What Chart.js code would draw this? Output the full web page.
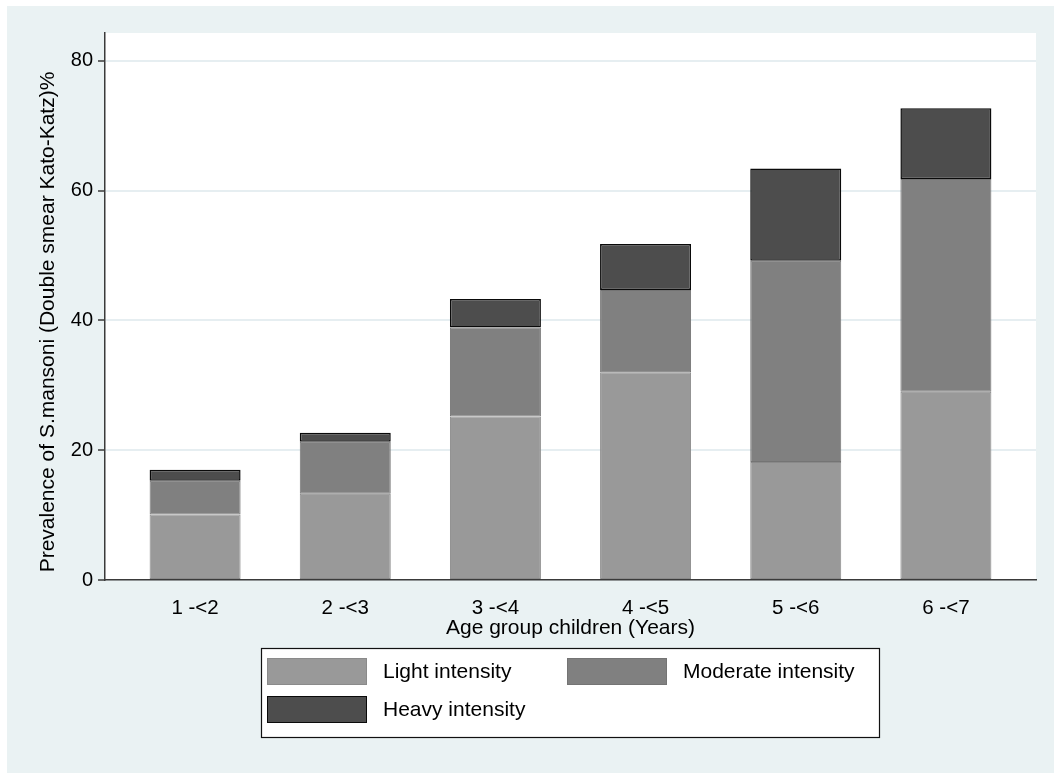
<!DOCTYPE html>
<html>
<head>
<meta charset="utf-8">
<script src="https://cdn.jsdelivr.net/npm/chart.js@4.4.1/dist/chart.umd.min.js"></script>
<style>
  html, body { margin: 0; padding: 0; background: #ffffff; }
  #wrap { position: relative; width: 1054px; height: 773px; }
</style>
</head>
<body>
<div id="wrap"><canvas id="chart" width="1054" height="773"></canvas></div>
<script>
// Age groups and prevalence (%) by infection intensity
const ageGroups = ['1 -<2', '2 -<3', '3 -<4', '4 -<5', '5 -<6', '6 -<7'];
const lightIntensity = [10.1, 13.3, 25.2, 32.0, 18.2, 29.0];
const moderateIntensity = [5.2, 8.0, 13.7, 12.7, 31.0, 32.8];
const heavyIntensity = [1.7, 1.4, 4.4, 7.1, 14.2, 10.9];
const yTickValues = [0, 20, 40, 60, 80];

const seriesLabels = ['Light intensity', 'Moderate intensity', 'Heavy intensity'];
const yTitle = 'Prevalence of S.mansoni (Double smear Kato-Katz)%';
const xTitle = 'Age group children (Years)';

const FONT = '"Liberation Sans", Arial, Helvetica, sans-serif';
const PAGE_BG = '#EAF2F3';
const GRID = '#E6EEF1';
const AXIS = '#3a3a3a';

Chart.defaults.font.family = FONT;
Chart.defaults.color = '#000';

const toPoints = arr => arr.map((v, i) => ({ x: i + 1, y: v }));

// Outer panel and white plot region
const backdrop = {
  id: 'backdrop',
  beforeDraw(chart) {
    const { ctx, chartArea: a, width, height } = chart;
    ctx.save();
    ctx.fillStyle = '#ffffff';
    ctx.fillRect(0, 0, width, height);
    ctx.fillStyle = PAGE_BG;
    ctx.fillRect(7, 6, width - 7, height - 6);
    ctx.fillStyle = '#ffffff';
    ctx.fillRect(a.left, a.top, a.right - a.left, a.bottom - a.top);
    ctx.restore();
  }
};

// Rotated y-axis title
const yAxisTitle = {
  id: 'yAxisTitle',
  afterDraw(chart) {
    const { ctx } = chart;
    ctx.save();
    ctx.translate(48, 322);
    ctx.rotate(-Math.PI / 2);
    ctx.font = '21px ' + FONT;
    ctx.fillStyle = '#000';
    ctx.textAlign = 'center';
    ctx.textBaseline = 'middle';
    ctx.fillText(yTitle, 0, 0);
    ctx.restore();
  }
};

// Boxed two-column legend built from the datasets
const boxLegend = {
  id: 'boxLegend',
  afterDraw(chart) {
    const { ctx } = chart;
    const box = { x: 261, y: 648, w: 618, h: 89 };
    ctx.save();
    ctx.fillStyle = '#ffffff';
    ctx.fillRect(box.x, box.y, box.w, box.h);
    ctx.strokeStyle = '#111';
    ctx.lineWidth = 1.2;
    ctx.strokeRect(box.x + 0.5, box.y + 0.5, box.w, box.h);
    ctx.font = '21px ' + FONT;
    ctx.textBaseline = 'middle';
    ctx.textAlign = 'left';
    chart.data.datasets.forEach((ds, i) => {
      const col = i % 2, row = Math.floor(i / 2);
      const sx = 267 + col * 300;
      const sy = 658 + row * 38;
      ctx.fillStyle = ds.backgroundColor;
      ctx.fillRect(sx, sy, 100, 27);
      ctx.strokeStyle = ds.borderColor;
      ctx.lineWidth = 1;
      ctx.strokeRect(sx + 0.5, sy + 0.5, 99, 26);
      ctx.fillStyle = '#000';
      ctx.fillText(ds.label, sx + 116, sy + 14);
    });
    ctx.restore();
  }
};

new Chart(document.getElementById('chart'), {
  type: 'bar',
  data: {
    datasets: [
      { label: seriesLabels[0], data: toPoints(lightIntensity), backgroundColor: '#999999', borderColor: '#8a8a8a', borderWidth: 1, borderSkipped: false },
      { label: seriesLabels[1], data: toPoints(moderateIntensity), backgroundColor: '#808080', borderColor: '#747474', borderWidth: 1, borderSkipped: false },
      { label: seriesLabels[2], data: toPoints(heavyIntensity), backgroundColor: '#4d4d4d', borderColor: '#0a0a0a', borderWidth: 1.5, borderSkipped: false }
    ]
  },
  options: {
    responsive: false,
    animation: false,
    devicePixelRatio: 1,
    layout: { padding: { left: 0, top: 33, right: 18, bottom: 0 } },
    plugins: { legend: { display: false }, tooltip: { enabled: false } },
    datasets: { bar: { barPercentage: 0.606, categoryPercentage: 1 } },
    scales: {
      x: {
        type: 'linear',
        stacked: true,
        offset: false,
        min: 0.4,
        max: 6.6,
        grid: { display: false, drawTicks: false },
        border: { display: true, color: AXIS, width: 1.5 },
        afterBuildTicks: s => { s.ticks = ageGroups.map((_, i) => ({ value: i + 1 })); },
        afterFit: s => { s.height = 193; },
        ticks: {
          autoSkip: false, maxRotation: 0, padding: 16,
          font: { size: 20.5 }, color: '#000',
          callback: v => ageGroups[v - 1]
        },
        title: {
          display: true, text: xTitle, color: '#000',
          font: { size: 21 }, padding: { top: 0, bottom: 132 }
        }
      },
      y: {
        stacked: true,
        min: 0,
        max: 84.3,
        afterBuildTicks: s => { s.ticks = yTickValues.map(v => ({ value: v })); },
        afterFit: s => { s.width = 105; },
        grid: { color: GRID, lineWidth: 2, drawTicks: true, tickLength: 7, tickColor: AXIS, tickWidth: 1.5 },
        border: { display: true, color: AXIS, width: 1.5 },
        ticks: { font: { size: 20 }, color: '#000', padding: 5 }
      }
    }
  },
  plugins: [backdrop, yAxisTitle, boxLegend]
});
</script>
</body>
</html>
